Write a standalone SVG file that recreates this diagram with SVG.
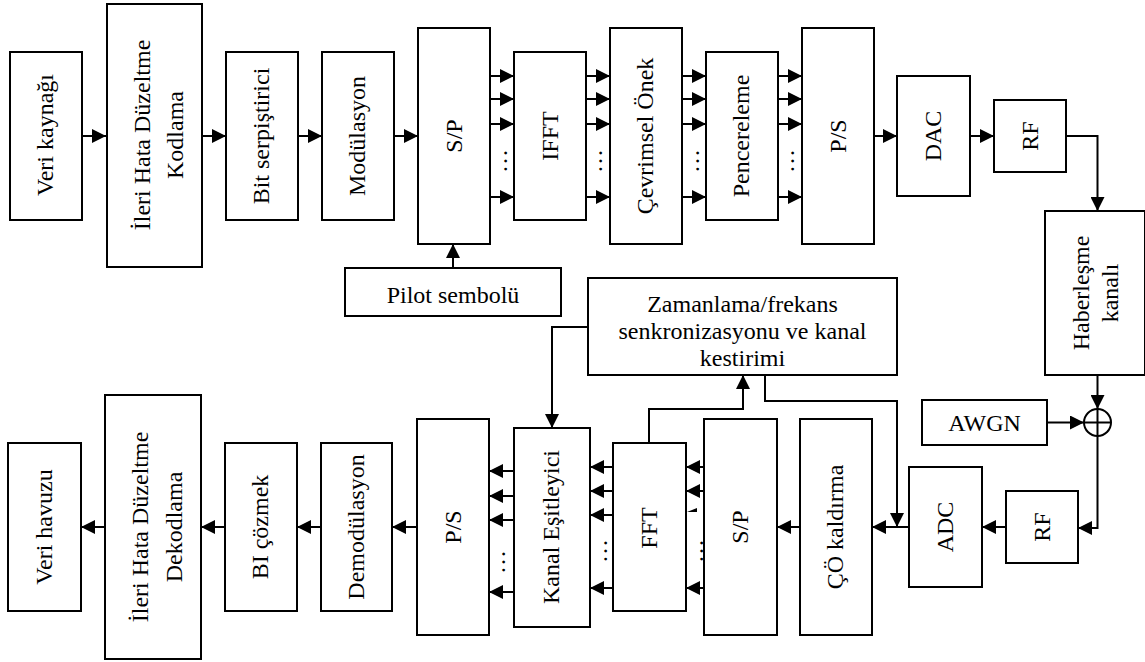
<svg xmlns="http://www.w3.org/2000/svg" width="1145" height="662" viewBox="0 0 1145 662">
<style>
  rect.b { fill: #fff; stroke: #000; stroke-width: 2; }
  text { font-family: "Liberation Serif", "Times New Roman", serif; font-size: 24px; fill: #000; }
  .c { fill: none; stroke: #000; stroke-width: 2; }
  .a { fill: none; stroke: #000; stroke-width: 2; marker-end: url(#ah); }
</style>
<defs>
  <marker id="ah" markerUnits="userSpaceOnUse" markerWidth="14" markerHeight="14" refX="14" refY="7" orient="auto">
    <path d="M0,0 L14,7 L0,14 z" fill="#000"/>
  </marker>
</defs>
<rect width="1145" height="662" fill="#fff"/>

<!-- top row -->
<g id="veri-kaynagi"><rect class="b" x="10" y="52" width="72" height="168"/>
  <text transform="translate(53,135) rotate(-90)" text-anchor="middle">Veri kaynağı</text></g>
<g id="ileri-kodlama"><rect class="b" x="107" y="4" width="95" height="263"/>
  <text transform="translate(150,135) rotate(-90)" text-anchor="middle">İleri Hata Düzeltme</text>
  <text transform="translate(183,135) rotate(-90)" text-anchor="middle">Kodlama</text></g>
<g id="bit-serpistirici"><rect class="b" x="226" y="52" width="72" height="168"/>
  <text transform="translate(269,136) rotate(-90)" text-anchor="middle">Bit serpiştirici</text></g>
<g id="modulasyon"><rect class="b" x="322" y="52" width="72" height="168"/>
  <text transform="translate(365,136) rotate(-90)" text-anchor="middle">Modülasyon</text></g>
<g id="sp-top"><rect class="b" x="418" y="28" width="72" height="216"/>
  <text transform="translate(462,136) rotate(-90)" text-anchor="middle">S/P</text></g>
<g id="ifft"><rect class="b" x="514" y="52" width="72" height="168"/>
  <text transform="translate(558,136) rotate(-90)" text-anchor="middle">IFFT</text></g>
<g id="cevrimsel-onek"><rect class="b" x="610" y="28" width="72" height="216"/>
  <text transform="translate(653,136) rotate(-90)" text-anchor="middle">Çevrimsel Önek</text></g>
<g id="pencereleme"><rect class="b" x="706" y="52" width="72" height="168"/>
  <text transform="translate(749,136) rotate(-90)" text-anchor="middle">Pencereleme</text></g>
<g id="ps-top"><rect class="b" x="802" y="28" width="72" height="216"/>
  <text transform="translate(846,136) rotate(-90)" text-anchor="middle">P/S</text></g>
<g id="dac"><rect class="b" x="897" y="76" width="73" height="120"/>
  <text transform="translate(941,136) rotate(-90)" text-anchor="middle">DAC</text></g>
<g id="rf-top"><rect class="b" x="994" y="100" width="72" height="72"/>
  <text transform="translate(1038,136) rotate(-90)" text-anchor="middle">RF</text></g>
<g id="haberlesme"><rect class="b" x="1045" y="211" width="100" height="164"/>
  <text transform="translate(1089,293) rotate(-90)" text-anchor="middle">Haberleşme</text>
  <text transform="translate(1118,293) rotate(-90)" text-anchor="middle">kanalı</text></g>
<g id="pilot"><rect class="b" x="345" y="268" width="216" height="48"/>
  <text x="453" y="303" text-anchor="middle">Pilot sembolü</text></g>
<g id="sync"><rect class="b" x="588" y="278" width="309" height="97"/>
  <text x="742.5" y="312" text-anchor="middle">Zamanlama/frekans</text>
  <text x="742.5" y="339" text-anchor="middle">senkronizasyonu ve kanal</text>
  <text x="742.5" y="366" text-anchor="middle">kestirimi</text></g>
<g id="awgn"><rect class="b" x="922" y="400" width="125" height="45"/>
  <text x="984.5" y="431" text-anchor="middle">AWGN</text></g>
<g id="toplayici"><circle cx="1097.5" cy="422.5" r="13.5" fill="#fff" stroke="#000" stroke-width="2"/>
  <path class="c" d="M1084,422.5 H1111 M1097.5,409 V436"/></g>

<!-- bottom row -->
<g id="veri-havuzu"><rect class="b" x="8" y="443" width="73" height="168"/>
  <text transform="translate(52,527) rotate(-90)" text-anchor="middle">Veri havuzu</text></g>
<g id="ileri-dekodlama"><rect class="b" x="105" y="395" width="96" height="264"/>
  <text transform="translate(148,527) rotate(-90)" text-anchor="middle">İleri Hata Düzeltme</text>
  <text transform="translate(182,527) rotate(-90)" text-anchor="middle">Dekodlama</text></g>
<g id="bi-cozmek"><rect class="b" x="225" y="443" width="72" height="168"/>
  <text transform="translate(268,527) rotate(-90)" text-anchor="middle">BI çözmek</text></g>
<g id="demodulasyon"><rect class="b" x="321" y="443" width="71" height="168"/>
  <text transform="translate(364,527) rotate(-90)" text-anchor="middle">Demodülasyon</text></g>
<g id="ps-bottom"><rect class="b" x="417" y="419" width="72" height="216"/>
  <text transform="translate(461,527) rotate(-90)" text-anchor="middle">P/S</text></g>
<g id="kanal-esitleyici"><rect class="b" x="514" y="428" width="76" height="199"/>
  <text transform="translate(559,527) rotate(-90)" text-anchor="middle">Kanal Eşitleyici</text></g>
<g id="fft"><rect class="b" x="613" y="443" width="73" height="168"/>
  <text transform="translate(657,528) rotate(-90)" text-anchor="middle">FFT</text></g>
<g id="sp-bottom"><rect class="b" x="704" y="419" width="73" height="216"/>
  <text transform="translate(748,527) rotate(-90)" text-anchor="middle">S/P</text></g>
<g id="co-kaldirma"><rect class="b" x="800" y="419" width="72" height="216"/>
  <text transform="translate(843,527) rotate(-90)" text-anchor="middle">ÇÖ kaldırma</text></g>
<g id="adc"><rect class="b" x="909" y="467" width="73" height="120"/>
  <text transform="translate(953,527) rotate(-90)" text-anchor="middle">ADC</text></g>
<g id="rf-bottom"><rect class="b" x="1006" y="491" width="72" height="72"/>
  <text transform="translate(1050,527) rotate(-90)" text-anchor="middle">RF</text></g>

<!-- ellipses between parallel lines -->
<g id="ellipses">
  <text transform="translate(506.5,161) rotate(-90)" text-anchor="middle">…</text>
  <text transform="translate(601.5,161) rotate(-90)" text-anchor="middle">…</text>
  <text transform="translate(698.5,161) rotate(-90)" text-anchor="middle">…</text>
  <text transform="translate(793.5,161) rotate(-90)" text-anchor="middle">…</text>
  <text transform="translate(504.5,562) rotate(-90)" text-anchor="middle">…</text>
  <text transform="translate(606.5,551) rotate(-90)" text-anchor="middle">…</text>
  <text transform="translate(702.5,551) rotate(-90)" text-anchor="middle">…</text>
</g>

<g id="connectors">
  <!-- top chain -->
  <path class="a" d="M82,136 H106"/>
  <path class="a" d="M202,136 H226"/>
  <path class="a" d="M298,136 H322"/>
  <path class="a" d="M394,136 H418"/>
  <path class="a" d="M490,76 H514"/><path class="a" d="M490,99 H514"/><path class="a" d="M490,124 H514"/><path class="a" d="M490,197 H514"/>
  <path class="a" d="M586,76 H610"/><path class="a" d="M586,99 H610"/><path class="a" d="M586,124 H610"/><path class="a" d="M586,197 H610"/>
  <path class="a" d="M682,76 H706"/><path class="a" d="M682,99 H706"/><path class="a" d="M682,124 H706"/><path class="a" d="M682,197 H706"/>
  <path class="a" d="M778,76 H802"/><path class="a" d="M778,99 H802"/><path class="a" d="M778,124 H802"/><path class="a" d="M778,197 H802"/>
  <path class="a" d="M874,136 H897"/>
  <path class="a" d="M970,136 H994"/>
  <path class="a" d="M1066,136 H1097.5 V211"/>
  <path class="a" d="M453,268 V244"/>
  <!-- channel -->
  <path class="a" d="M1097.5,375 V409"/>
  <path class="a" d="M1047,422.5 H1084"/>
  <path class="a" d="M1097.5,436 V528 H1078"/>
  <!-- bottom chain -->
  <path class="a" d="M1006,527 H982"/>
  <path class="a" d="M909,527 H872"/>
  <path class="a" d="M765,375 V401 H897 V527"/>
  <path class="a" d="M800,527 H777"/>
  <path class="a" d="M704,467 H686"/><path class="a" d="M704,491 H686"/><path class="a" d="M704,588 H686"/>
  <polygon points="687,512 697,508 697,512" fill="#000"/>
  <path class="a" d="M613,467 H590"/><path class="a" d="M613,491 H590"/><path class="a" d="M613,515 H590"/><path class="a" d="M613,588 H590"/>
  <path class="a" d="M514,471 H489"/><path class="a" d="M514,496 H489"/><path class="a" d="M514,520 H489"/><path class="a" d="M514,592 H489"/>
  <path class="a" d="M417,527 H392"/>
  <path class="a" d="M321,527 H297"/>
  <path class="a" d="M225,527 H201"/>
  <path class="a" d="M105,527 H81"/>
  <!-- sync links -->
  <path class="a" d="M649,443 V409 H743 V375"/>
  <path class="a" d="M588,327 H552 V428"/>
</g>
</svg>
